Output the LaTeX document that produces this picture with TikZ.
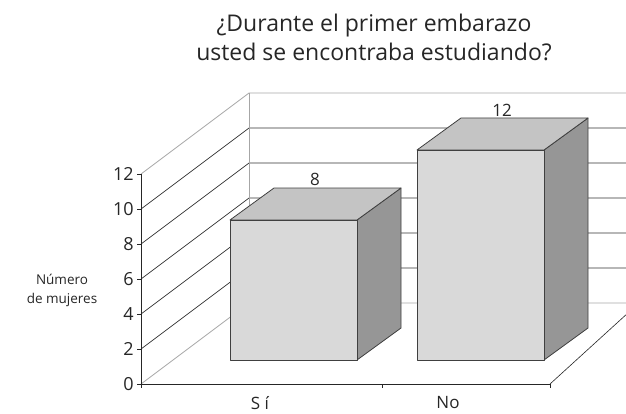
\documentclass[tikz,border=0pt]{standalone}
\usepackage{fontspec}
\setmainfont{Open Sans}
\newcommand{\cuboid}[3]{% left x, width, height
  \draw[barside] (#1+#2,53) -- ++(44,32) -- ++(0,#3) -- ++(-44,-32) -- cycle;
  \draw[bartop] (#1,53+#3) -- ++(44,32) -- ++(#2,0) -- ++(-44,-32) -- cycle;
  \draw[barfront] (#1,53) rectangle ++(#2,#3);
}
\begin{document}
\begin{tikzpicture}[x=1pt,y=1pt,
  wall/.style={black!35, line width=0.8pt},
  gridline/.style={black!80, line width=0.7pt},
  axisline/.style={black!85, line width=0.8pt},
  barfront/.style={fill=black!15, draw=black!75, line width=0.8pt, line join=round},
  bartop/.style={fill=black!23, draw=black!75, line width=0.8pt, line join=round},
  barside/.style={fill=black!41, draw=black!75, line width=0.8pt, line join=round},
  ticklabel/.style={anchor=east, inner sep=0pt, font=\fontsize{18}{18}\selectfont, text=black!85},
  catlabel/.style={inner sep=0pt, font=\fontsize{17}{17}\selectfont, text=black!85},
  valuelabel/.style={inner sep=0pt, font=\fontsize{17}{17}\selectfont, text=black!85},
  title/.style={align=center, inner sep=0pt, font=\fontsize{23}{29}\selectfont, text=black!85}]
  \useasboundingbox (0,0) rectangle (626,413);
  \clip (0,0) rectangle (626,413);
  \def\u{17.5}
  \def\dx{108}
  \def\dy{81}
  % walls and grid
  \foreach \v in {2,4,...,10}
    \draw[gridline] (141,29+\v*\u) -- ++(\dx,\dy) -- ++(450,0);
  \draw[wall] (141,29) -- ++(\dx,\dy) coordinate (back0) -- ++(450,0);
  \draw[wall] (141,239) -- ++(\dx,\dy) coordinate (back12) -- ++(450,0);
  \draw[wall] (back0) -- (back12);
  \draw[axisline, line width=0.6pt] (550,29) -- ++(90,82);
  % axes
  \draw[axisline] (141,239) -- (141,29) -- (550,29);
  \foreach \v in {0,2,...,12}
    \draw[axisline] (141,29+\v*\u) -- ++(-4,0) node[ticklabel, xshift=-3pt] (t\v) {\v};
  \foreach \x in {141,382,550}
    \draw[axisline] (\x,29) -- ++(0,-4);
  % bars
  \cuboid{230}{127}{140}
  \cuboid{417}{127}{210}
  \node[valuelabel] (v8) at (315,234) {8};
  \node[valuelabel] (v12) at (502,303) {12};
  \node[catlabel] (si) at (260,10) {S í};
  \node[catlabel] (no) at (448,10) {No};
  \node[align=center, inner sep=0pt, font=\fontsize{13.5}{19}\selectfont, text=black!85] (ylab) at (62,123) {Número\\de mujeres};
  \node[title] (ttl) at (374,376) {¿Durante el primer embarazo\\usted se encontraba estudiando?};
\end{tikzpicture}
\end{document}
